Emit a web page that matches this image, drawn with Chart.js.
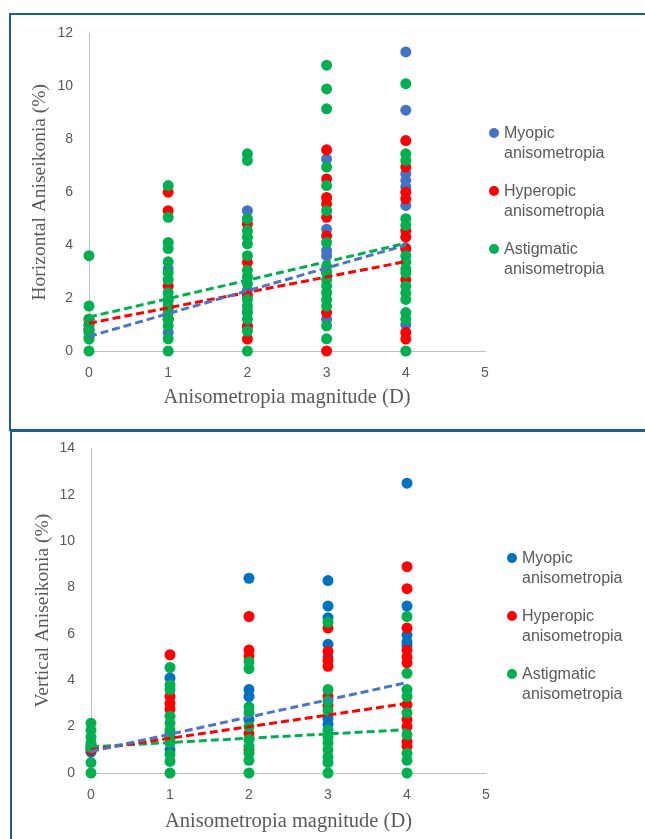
<!DOCTYPE html>
<html lang="en">
<head>
    <meta charset="UTF-8">
    <title>Aniseikonia vs Anisometropia</title>
    <script src="https://cdn.jsdelivr.net/npm/chart.js"></script>
    <style>
        body {
            margin: 0;
            width: 645px;
            height: 839px;
            background: #fff;
            position: relative;
            overflow: hidden;
            font-family: "Liberation Sans", Arial, sans-serif;
        }

        .box {
            position: absolute;
            width: 700px;
            border-left: 2px solid #1f5f8b;
            border-top: 2px solid #1f5f8b;
        }

        #boxTop {
            left: 9px;
            top: 13px;
            height: 414px;
            border-bottom: 2px solid #1f5f8b;
        }

        #boxBottom {
            left: 10px;
            top: 430px;
            height: 420px;
        }

        canvas {
            position: absolute;
        }

        .legend {
            position: absolute;
            color: #595959;
            font-size: 16px;
            line-height: 20px;
        }

        .legend .item {
            position: relative;
            padding-left: 10px;
            margin-bottom: 18px;
        }

        .legend .dot {
            position: absolute;
            left: -5px;
            top: 5px;
            width: 10px;
            height: 10px;
            border-radius: 50%;
        }
    </style>
</head>
<body>

    <div class="box" id="boxTop"></div>
    <div class="box" id="boxBottom"></div>

    <!-- y tick padding adds ~23px above the chart area, so the canvases start higher -->
    <canvas id="chartH" width="630" height="419" style="left:11px; top:9px;"></canvas>
    <canvas id="chartV" width="630" height="415" style="left:11px; top:424px;"></canvas>

    <div class="legend" id="legendH" style="left:494px; top:123px;"></div>
    <div class="legend" id="legendV" style="left:512px; top:548px;"></div>

    <script>
        // anisometropia magnitude (D) columns
        const xCats = [0, 1, 2, 3, 4];
        const seriesNames = ['Myopic anisometropia', 'Hyperopic anisometropia', 'Astigmatic anisometropia'];

        // horizontal aniseikonia (%), one list of values per column
        const hMyopic = [
            [0.5, 0.8],
            [3.1, 1.9, 1.2, 0.7],
            [5.3, 2.3, 1.5, 0.9],
            [7.25, 4.6, 3.8, 3.6, 3.0, 1.2],
            [11.3, 9.1, 6.7, 6.45, 6.2, 5.5, 3.9, 1.0]
        ];
        const hHyperopic = [
            [1.0, 1.2, 0.8],
            [6.0, 5.3, 2.45, 1.6, 1.2],
            [4.8, 3.35, 2.1, 0.95, 0.45],
            [7.6, 6.5, 5.8, 5.55, 5.05, 4.35, 1.45, 0],
            [7.95, 6.95, 6.0, 5.75, 4.55, 4.3, 3.85, 2.7, 0.7, 0.45]
        ];
        const hAstigmatic = [
            [3.6, 1.7, 1.2, 0.95, 0.7, 0.45, 0],
            [6.25, 5.05, 4.1, 3.87, 3.37, 2.95, 2.7, 2.2, 1.95, 1.7, 1.45, 1.2, 0.95, 0.46, 0],
            [7.45, 7.2, 5.0, 4.55, 4.3, 4.05, 3.6, 3.05, 2.8, 2.55, 1.95, 1.7, 1.45, 1.2, 0.75, 0],
            [10.8, 9.9, 9.15, 6.95, 6.25, 5.3, 4.1, 3.2, 2.95, 2.7, 2.45, 2.2, 1.95, 1.7, 0.95, 0.46],
            [10.1, 7.45, 7.2, 5.0, 4.75, 3.6, 3.35, 3.1, 2.95, 2.45, 2.2, 1.95, 1.45, 1.2, 0]
        ];

        // vertical aniseikonia (%)
        const vMyopic = [
            [0.9, 1.2],
            [4.1, 1.7, 1.0],
            [8.4, 3.6, 3.3, 2.3],
            [8.3, 7.2, 6.7, 5.55, 5.0, 2.35, 2.1],
            [12.5, 7.2, 5.95, 5.65, 5.5]
        ];
        const vHyperopic = [
            [1.0, 1.1],
            [5.1, 3.3, 3.0, 2.75, 1.5],
            [6.75, 5.3, 5.05, 1.7, 1.0],
            [6.25, 5.25, 4.85, 4.6, 3.3, 2.9],
            [8.9, 7.95, 6.25, 5.3, 5.0, 4.75, 2.95, 2.3, 2.0, 1.35, 1.15]
        ];
        const vAstigmatic = [
            [2.15, 1.85, 1.55, 1.3, 1.1, 0.45, 0],
            [4.55, 3.8, 3.6, 2.45, 2.15, 1.85, 1.55, 1.3, 0.8, 0.5, 0],
            [4.8, 4.5, 2.85, 2.6, 2.0, 1.45, 1.15, 0.85, 0.55, 0],
            [6.5, 3.6, 3.1, 2.7, 1.85, 1.55, 1.3, 1.0, 0.7, 0.45, 0],
            [6.75, 4.3, 3.6, 3.3, 2.6, 1.65, 0.85, 0.55, 0]
        ];

        // linear trend lines, value at x = 0 and x = 4
        const trendX = [0, 4];
        const hTrendMyopic = [0.55, 4.0];
        const hTrendHyperopic = [1.05, 3.38];
        const hTrendAstigmatic = [1.28, 4.07];
        const vTrendMyopic = [0.93, 3.9];
        const vTrendHyperopic = [1.0, 3.0];
        const vTrendAstigmatic = [1.13, 1.87];

        const xTicks = [0, 1, 2, 3, 4, 5];
        const hYTicks = [0, 2, 4, 6, 8, 10, 12];
        const vYTicks = [0, 2, 4, 6, 8, 10, 12, 14];

        const red = '#ff0000';
        const green = '#00b050';
        const trendBlue = '#4a76c4';

        function toPoints(cols) {
            return cols.flatMap((ys, i) => ys.map(y => ({ x: xCats[i], y: y })));
        }

        function trendPoints(vals) {
            return vals.map((y, i) => ({ x: trendX[i], y: y }));
        }

        function dotSet(label, cols, color, order) {
            return {
                label: label,
                data: toPoints(cols),
                backgroundColor: color,
                borderWidth: 0,
                pointRadius: 5.5,
                order: order,
                clip: false
            };
        }

        function trendSet(vals, color) {
            return {
                label: 'trend',
                data: trendPoints(vals),
                showLine: true,
                borderColor: color,
                borderWidth: 3,
                borderDash: [8, 4],
                pointRadius: 0,
                order: 0,
                clip: false
            };
        }

        function makeChart(id, o) {
            const tickFont = { family: '"Liberation Sans", Arial, sans-serif', size: 14 };
            const serif = '"Liberation Serif", "Times New Roman", serif';
            return new Chart(document.getElementById(id), {
                type: 'scatter',
                data: { datasets: o.datasets },
                options: {
                    responsive: false,
                    animation: false,
                    layout: { padding: { left: 0, top: 0, right: o.padRight, bottom: 0 } },
                    plugins: { legend: { display: false }, tooltip: { enabled: false } },
                    scales: {
                        x: {
                            min: xTicks[0],
                            max: xTicks[xTicks.length - 1],
                            afterBuildTicks: s => { s.ticks = xTicks.map(v => ({ value: v })); },
                            afterFit: s => { s.height = o.xHeight; },
                            grid: { display: false, drawTicks: false },
                            border: { display: true, color: '#bfbfbf', width: 1 },
                            ticks: { color: '#595959', font: tickFont, padding: 14 },
                            title: {
                                display: true,
                                text: 'Anisometropia magnitude (D)',
                                color: '#595959',
                                font: { family: serif, size: 20.5 },
                                padding: { top: 0, bottom: o.xTitlePad }
                            }
                        },
                        y: {
                            min: o.yTicks[0],
                            max: o.yTicks[o.yTicks.length - 1],
                            afterBuildTicks: s => { s.ticks = o.yTicks.map(v => ({ value: v })); },
                            afterFit: s => { s.width = o.yWidth; },
                            grid: { display: false, drawTicks: false },
                            border: { display: true, color: '#bfbfbf', width: 1 },
                            ticks: { color: '#595959', font: tickFont, padding: 16 },
                            title: {
                                display: true,
                                text: o.yTitle,
                                color: '#595959',
                                font: { family: serif, size: 19.5 },
                                padding: { top: o.yTitlePad, bottom: 0 }
                            }
                        }
                    }
                }
            });
        }

        function makeLegend(id, colors) {
            const el = document.getElementById(id);
            seriesNames.forEach((name, i) => {
                const parts = name.split(' ');
                el.innerHTML += '<div class="item"><span class="dot" style="background:' + colors[i] + '"></span>' +
                    parts[0] + '<br>' + parts[1] + '</div>';
            });
        }

        makeChart('chartH', {
            datasets: [
                trendSet(hTrendMyopic, trendBlue),
                trendSet(hTrendHyperopic, red),
                trendSet(hTrendAstigmatic, green),
                dotSet(seriesNames[0], hMyopic, '#4472c4', 3),
                dotSet(seriesNames[1], hHyperopic, red, 2),
                dotSet(seriesNames[2], hAstigmatic, green, 1)
            ],
            yTicks: hYTicks,
            yTitle: 'Horizontal Aniseikonia (%)',
            padRight: 156,
            xHeight: 77,
            yWidth: 78,
            xTitlePad: 18,
            yTitlePad: 17
        });

        makeChart('chartV', {
            datasets: [
                trendSet(vTrendMyopic, trendBlue),
                trendSet(vTrendHyperopic, red),
                trendSet(vTrendAstigmatic, green),
                dotSet(seriesNames[0], vMyopic, '#0070c0', 3),
                dotSet(seriesNames[1], vHyperopic, red, 2),
                dotSet(seriesNames[2], vAstigmatic, green, 1)
            ],
            yTicks: vYTicks,
            yTitle: 'Vertical Aniseikonia (%)',
            padRight: 155,
            xHeight: 66,
            yWidth: 80,
            xTitlePad: 5,
            yTitlePad: 20
        });

        makeLegend('legendH', ['#4472c4', red, green]);
        makeLegend('legendV', ['#0070c0', red, green]);
    </script>
</body>
</html>
